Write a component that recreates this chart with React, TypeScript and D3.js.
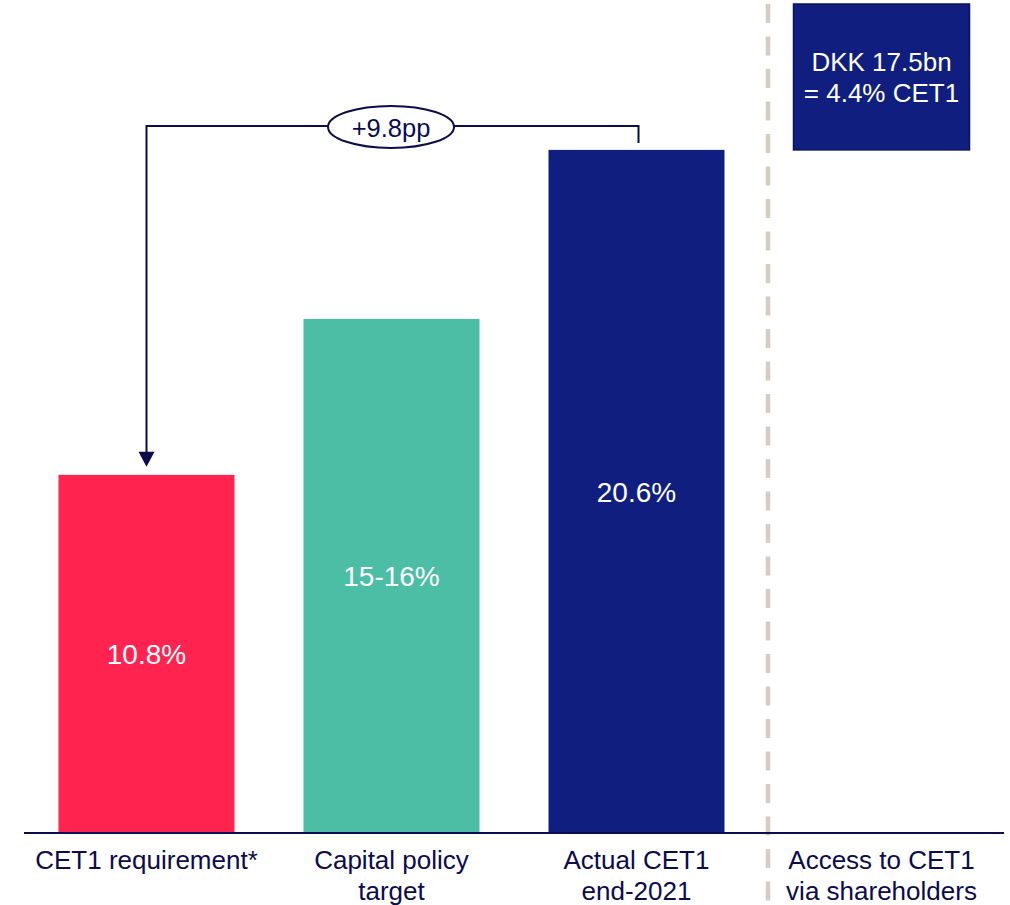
import React from "react";
import * as d3 from "d3";

// Categories along the baseline (two-line labels)
const categories = ["req", "target", "actual", "access"];
const categoryLabels: string[][] = [
  ["CET1 requirement*"],
  ["Capital policy", "target"],
  ["Actual CET1", "end-2021"],
  ["Access to CET1", "via shareholders"],
];

// CET1 ratios (%) for the three bars
const barKeys = ["req", "target", "actual"];
const barValues = [10.8, 15.5, 20.6];
const barLabels = ["10.8%", "15-16%", "20.6%"];
const barColors = ["#FF2450", "#4BBEA5", "#101F7F"];

// Extra CET1 available via shareholders, stacked above actual CET1
const accessBase = 20.6;
const accessValue = 4.4;
const accessLines = ["DKK 17.5bn", "= 4.4% CET1"];

// Gap between requirement and actual
const gapLabel = "+9.8pp";

const W = 1010;
const H = 905;
const NAVY_TEXT = "#0B0B4E";
const FONT = "'Liberation Sans', Arial, Helvetica, sans-serif";

export default function App() {
  const x = d3.scalePoint<string>().domain(categories).range([24, 1004]).padding(0.5);
  const y = d3.scaleLinear().domain([0, 25]).range([833, 4]);
  const barW = 176;

  const reqX = x("req")!;
  const actX = x("actual")!;
  const accX = x("access")!;
  const bracketY = y(20.6) - 24;
  const arrowTip = y(10.8) - 8;
  const midX = 391;

  const dashX = (x("actual")! + x("access")!) / 2 + 9;

  return (
    <svg
      width={W}
      height={H}
      style={{ position: "absolute", left: 0, top: 0, display: "block" }}
      fontFamily={FONT}
    >
      <rect width={W} height={H} fill="#fff" />

      {/* dashed separator */}
      <line
        x1={dashX}
        x2={dashX}
        y1={4}
        y2={H}
        stroke="#D5CDC4"
        strokeWidth={4.5}
        strokeDasharray="19 13.5"
      />

      {/* bars */}
      {barKeys.map((k, i) => (
        <g key={k}>
          <rect
            x={x(k)! - barW / 2}
            y={y(barValues[i])}
            width={barW}
            height={y(0) - y(barValues[i])}
            fill={barColors[i]}
          />
          <text
            x={x(k)!}
            y={(y(barValues[i]) + y(0)) / 2}
            dy="0.36em"
            textAnchor="middle"
            fill="#fff"
            fontSize={28}
          >
            {barLabels[i]}
          </text>
        </g>
      ))}

      {/* access box */}
      <rect
        x={accX - barW / 2}
        y={y(accessBase + accessValue)}
        width={barW}
        height={y(accessBase) - y(accessBase + accessValue)}
        fill="#101F7F"
        stroke="#0A1260"
        strokeWidth={1.5}
      />
      {accessLines.map((t, i) => (
        <text
          key={t}
          x={accX}
          y={y(accessBase + accessValue / 2) + (i - 0.5) * 31.5}
          dy="0.36em"
          textAnchor="middle"
          fill="#fff"
          fontSize={26}
        >
          {t}
        </text>
      ))}

      {/* baseline */}
      <line x1={24} x2={1004} y1={y(0)} y2={y(0)} stroke={NAVY_TEXT} strokeWidth={2} />

      {/* bracket with arrow */}
      <path
        d={`M${reqX},${arrowTip - 14} V${bracketY} H${actX + 2} V${y(20.6) - 7}`}
        fill="none"
        stroke={NAVY_TEXT}
        strokeWidth={2}
      />
      <path
        d={`M${reqX - 8},${arrowTip - 15} L${reqX + 8},${arrowTip - 15} L${reqX},${arrowTip} Z`}
        fill={NAVY_TEXT}
      />
      <ellipse cx={midX} cy={bracketY + 1} rx={63} ry={21} fill="#fff" stroke={NAVY_TEXT} strokeWidth={2} />
      <text x={midX} y={bracketY + 2} dy="0.36em" textAnchor="middle" fill={NAVY_TEXT} fontSize={25.5}>
        {gapLabel}
      </text>

      {/* category labels */}
      {categories.map((c, i) =>
        categoryLabels[i].map((line, j) => (
          <text
            key={c + j}
            x={x(c)!}
            y={869 + j * 31}
            textAnchor="middle"
            fill={NAVY_TEXT}
            fontSize={26}
          >
            {line}
          </text>
        ))
      )}
    </svg>
  );
}
